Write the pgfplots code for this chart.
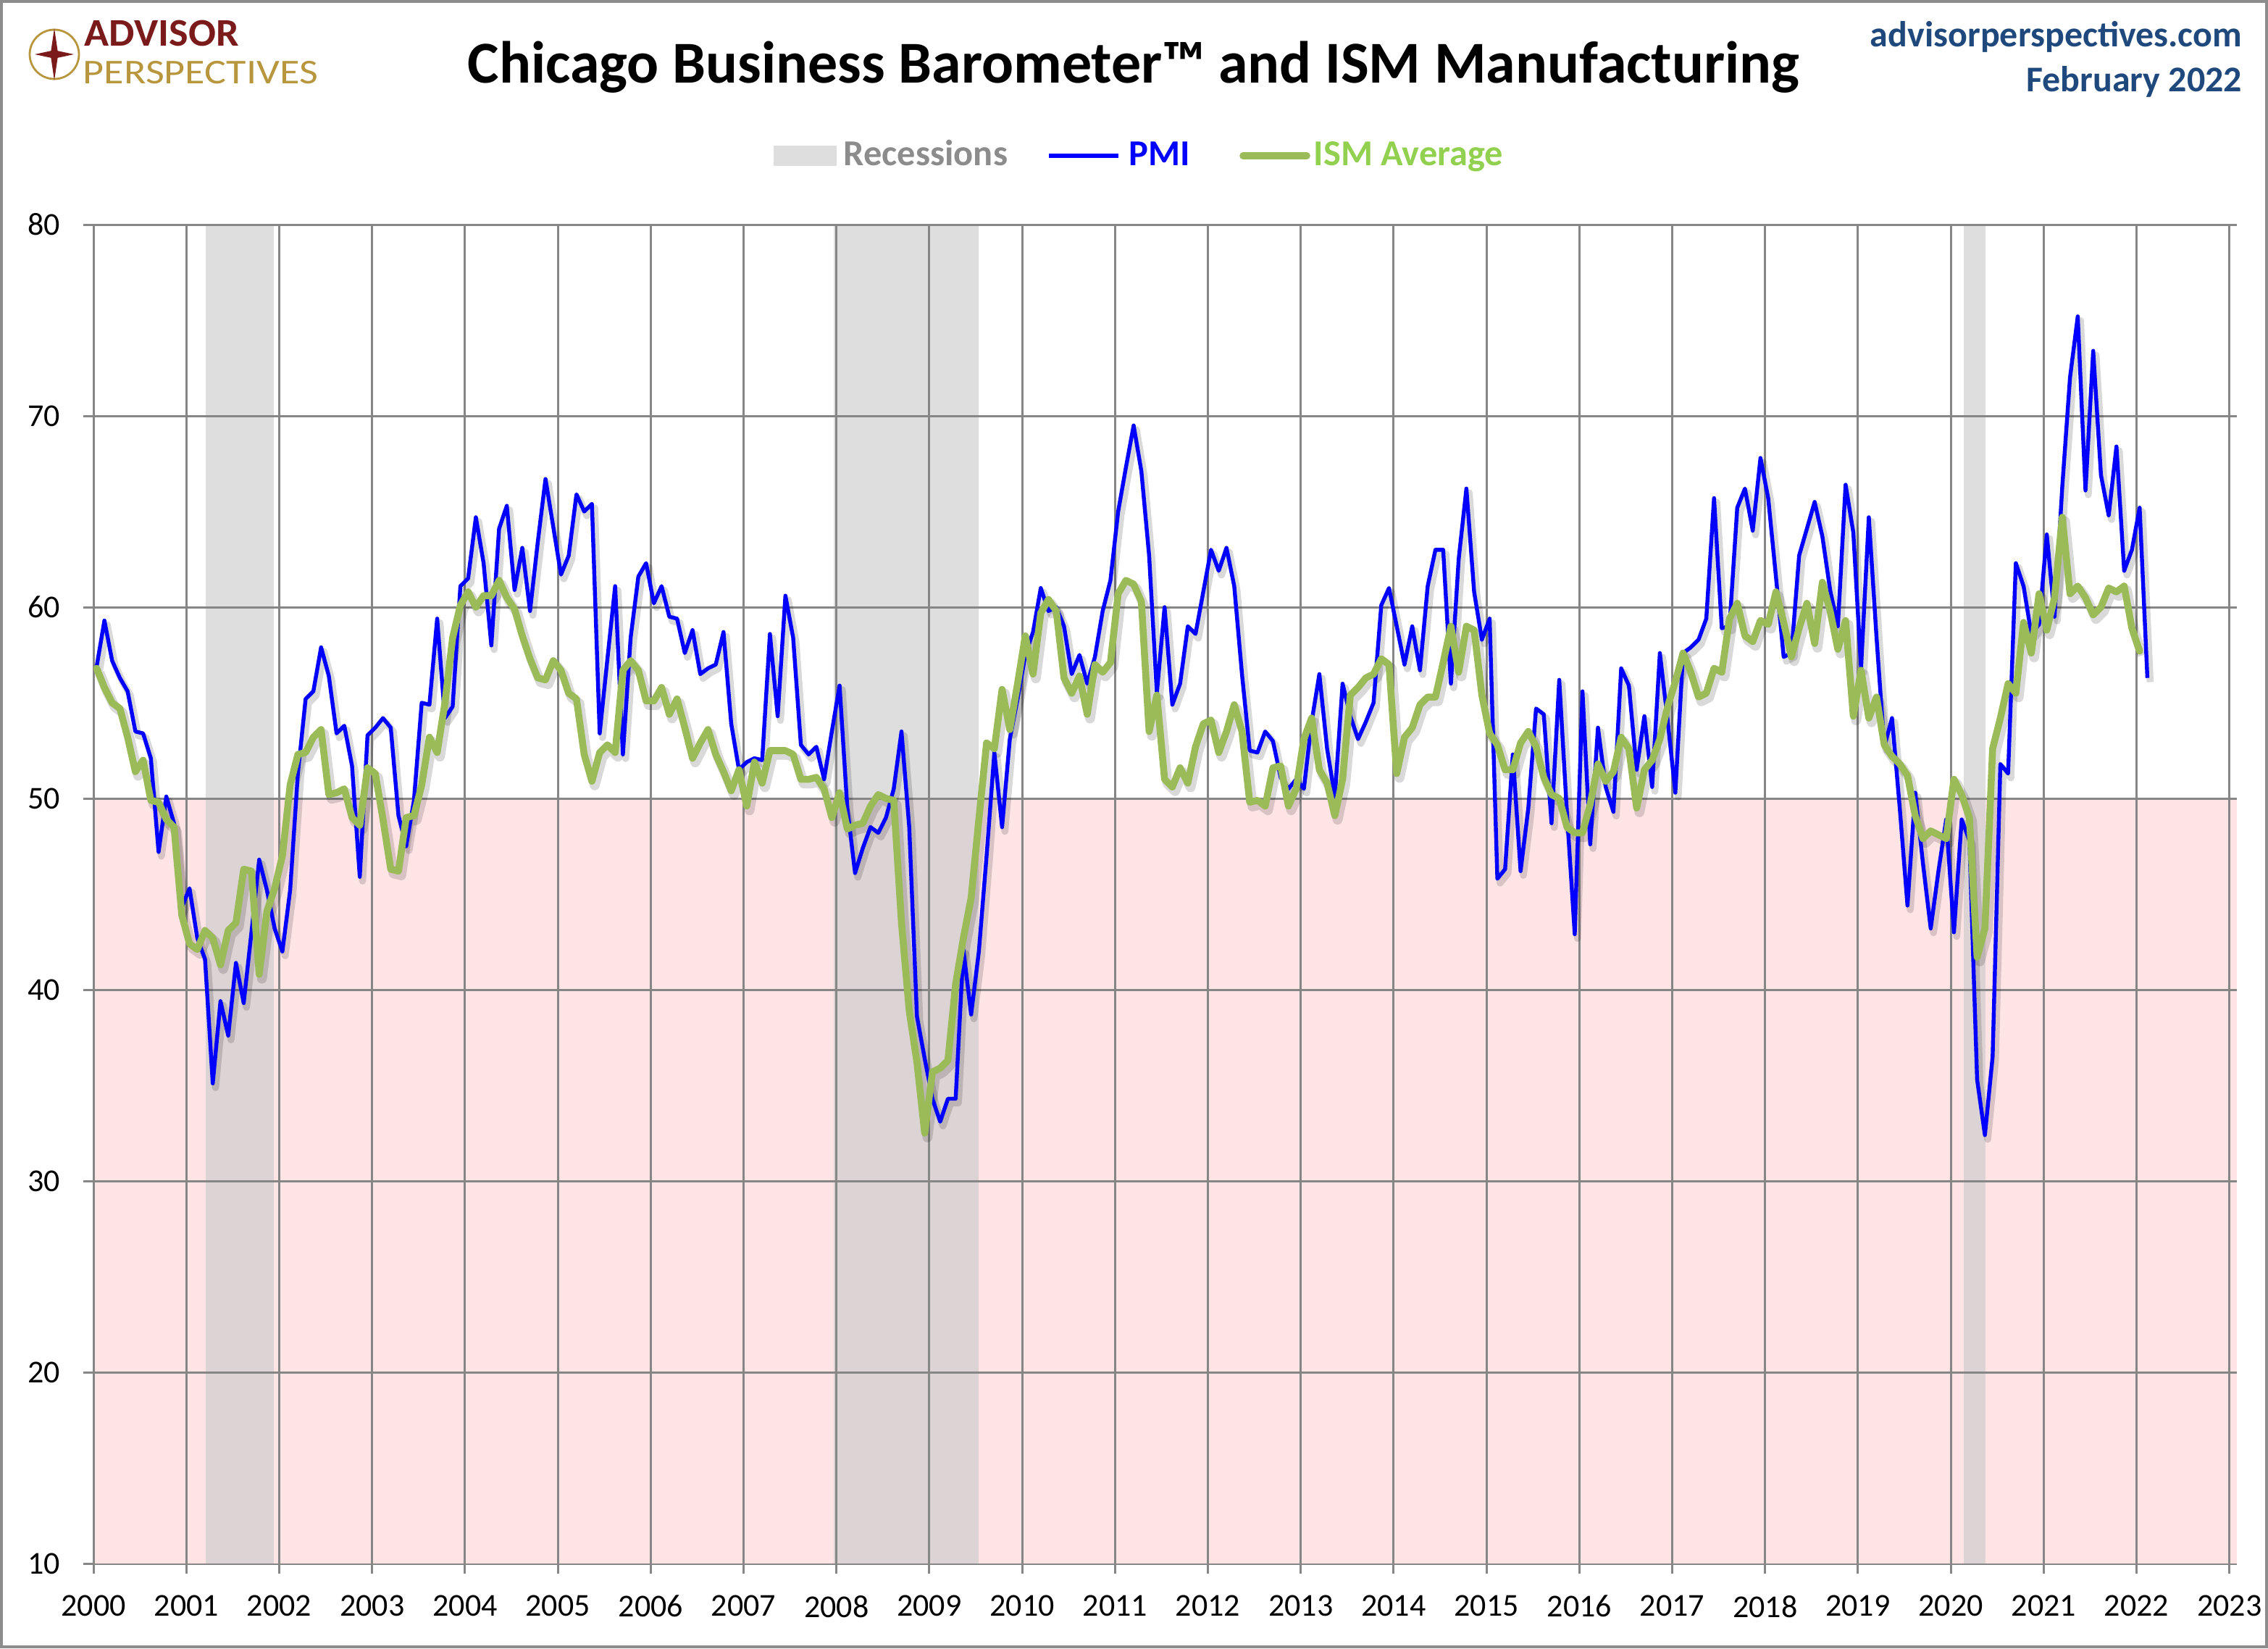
\documentclass[border=0pt]{standalone}
\usepackage{fontspec}
\setmainfont{Carlito}
\usepackage{pgfplots}
\pgfplotsset{compat=1.18}
\usepackage{pgfplotstable}
\definecolor{pmiblue}{RGB}{0,0,255}
\definecolor{ismgreen}{RGB}{155,187,89}
\definecolor{ismtext}{RGB}{146,208,80}
\definecolor{pinkzone}{RGB}{255,228,230}
\definecolor{recup}{RGB}{222,222,222}
\definecolor{reclow}{RGB}{220,211,212}
\definecolor{gridgray}{RGB}{134,134,134}
\definecolor{apred}{RGB}{122,26,26}
\definecolor{apgold}{RGB}{184,150,62}
\definecolor{apblue}{RGB}{31,73,125}
\definecolor{rectext}{RGB}{140,140,140}

\pgfplotstableread{
m pmi ism
0 56.9 56.8
1 59.3 55.8
2 57.2 55.0
3 56.3 54.7
4 55.6 53.2
5 53.5 51.4
6 53.4 52.0
7 52.1 49.9
8 47.2 49.8
9 50.1 48.9
10 48.7 48.5
11 44.3 43.9
12 45.3 42.4
13 42.7 42.1
14 41.6 43.1
15 35.1 42.7
16 39.4 41.3
17 37.6 43.1
18 41.4 43.5
19 39.3 46.3
20 43.0 46.2
21 46.8 40.8
22 45.2 44.1
23 43.2 45.3
24 42.0 47.0
25 45.2 50.7
26 51.3 52.3
27 55.2 52.4
28 55.6 53.2
29 57.9 53.6
30 56.4 50.2
31 53.4 50.3
32 53.8 50.5
33 51.7 49.0
34 45.9 48.6
35 53.3 51.6
36 53.7 51.3
37 54.2 48.9
38 53.7 46.3
39 49.1 46.2
40 47.5 49.0
41 49.9 49.1
42 55.0 50.7
43 54.9 53.2
44 59.4 52.4
45 54.2 55.0
46 54.8 58.4
47 61.1 60.1
48 61.5 60.8
49 64.7 60.0
50 62.3 60.6
51 58.0 60.6
52 64.1 61.4
53 65.3 60.5
54 60.9 59.9
55 63.1 58.5
56 59.8 57.3
57 63.4 56.3
58 66.7 56.2
59 64.2 57.2
60 61.7 56.7
61 62.7 55.5
62 65.9 55.2
63 65.0 52.3
64 65.4 50.9
65 53.4 52.4
66 57.3 52.8
67 61.1 52.4
68 52.3 56.7
69 58.4 57.2
70 61.6 56.7
71 62.3 55.1
72 60.2 55.1
73 61.1 55.8
74 59.5 54.4
75 59.4 55.2
76 57.6 53.7
77 58.8 52.1
78 56.5 52.9
79 56.8 53.6
80 57.0 52.3
81 58.7 51.4
82 53.9 50.4
83 51.5 51.5
84 51.9 49.6
85 52.1 51.9
86 52.0 50.8
87 58.6 52.5
88 54.3 52.5
89 60.6 52.5
90 58.4 52.3
91 52.8 51.0
92 52.3 51.0
93 52.7 51.1
94 51.0 50.5
95 53.5 49.0
96 55.9 50.3
97 49.5 48.4
98 46.1 48.6
99 47.4 48.7
100 48.5 49.6
101 48.2 50.2
102 49.0 50.0
103 50.5 49.9
104 53.5 43.5
105 48.5 38.9
106 38.6 36.2
107 36.4 32.5
108 34.3 35.7
109 33.1 35.9
110 34.3 36.3
111 34.3 40.3
112 42.1 42.7
113 38.7 44.8
114 42.0 48.9
115 47.0 52.9
116 52.4 52.6
117 48.5 55.7
118 53.1 53.6
119 55.2 56.0
120 57.5 58.5
121 58.7 56.5
122 61.0 59.7
123 59.8 60.4
124 60.0 59.8
125 59.0 56.3
126 56.5 55.5
127 57.5 56.4
128 56.0 54.4
129 57.4 57.0
130 59.8 56.6
131 61.4 57.1
132 65.0 60.7
133 67.3 61.4
134 69.5 61.2
135 67.1 60.3
136 62.7 53.5
137 55.5 55.4
138 60.0 51.0
139 54.9 50.6
140 56.0 51.6
141 59.0 50.8
142 58.6 52.7
143 60.8 53.9
144 63.0 54.1
145 61.9 52.4
146 63.1 53.5
147 61.1 54.9
148 56.5 53.5
149 52.5 49.8
150 52.4 49.9
151 53.5 49.6
152 53.0 51.6
153 51.1 51.7
154 50.5 49.6
155 51.0 50.5
156 50.5 53.1
157 54.0 54.2
158 56.5 51.5
159 52.6 50.8
160 50.1 49.1
161 56.0 51.0
162 54.3 55.4
163 53.1 55.8
164 54.0 56.3
165 55.0 56.5
166 60.1 57.3
167 61.0 57.0
168 59.0 51.3
169 57.0 53.2
170 59.0 53.7
171 56.7 54.9
172 61.1 55.3
173 63.0 55.3
174 63.0 57.1
175 56.0 59.0
176 62.5 56.6
177 66.2 59.0
178 60.8 58.8
179 58.3 55.4
180 59.4 53.4
181 45.8 52.8
182 46.3 51.5
183 52.3 51.5
184 46.2 52.9
185 49.5 53.5
186 54.7 52.7
187 54.4 51.1
188 48.7 50.2
189 56.2 50.0
190 49.2 48.5
191 42.9 48.2
192 55.6 48.2
193 47.6 49.7
194 53.7 51.8
195 50.6 50.9
196 49.3 51.4
197 56.8 53.2
198 55.9 52.6
199 51.5 49.5
200 54.3 51.5
201 50.6 52.0
202 57.6 53.1
203 54.1 54.8
204 50.3 56.1
205 57.6 57.6
206 57.9 56.6
207 58.3 55.3
208 59.4 55.5
209 65.7 56.8
210 58.9 56.6
211 59.0 59.4
212 65.2 60.2
213 66.2 58.5
214 64.0 58.2
215 67.8 59.3
216 65.7 59.1
217 61.6 60.8
218 57.4 59.2
219 57.6 57.4
220 62.7 58.9
221 64.1 60.2
222 65.5 58.1
223 63.7 61.3
224 60.9 59.8
225 59.0 57.8
226 66.4 59.3
227 63.9 54.3
228 56.8 56.7
229 64.7 54.2
230 58.4 55.3
231 52.7 52.8
232 54.2 52.2
233 49.5 51.8
234 44.4 51.2
235 50.3 49.1
236 46.6 47.9
237 43.2 48.3
238 46.2 48.1
239 48.9 47.9
240 43.0 51.0
241 48.9 50.2
242 47.8 49.0
243 35.3 41.7
244 32.4 43.2
245 36.5 52.6
246 51.8 54.2
247 51.3 56.0
248 62.3 55.5
249 61.1 59.2
250 58.6 57.6
251 59.1 60.7
252 63.8 58.8
253 59.5 60.5
254 66.3 64.7
255 72.0 60.7
256 75.2 61.1
257 66.1 60.5
258 73.4 59.6
259 66.9 60.0
260 64.8 61.0
261 68.4 60.8
262 61.9 61.1
263 63.0 58.9
264 65.2 57.7
265 56.3 nan
}\datatable

\begin{document}
\begin{tikzpicture}
\useasboundingbox (0,0) rectangle (782.75pt,568.75pt);
\draw[color=gray!90, line width=1pt] (0.5pt,0.5pt) rectangle (782.25pt,568.25pt);

\begin{axis}[
  at={(32.3pt,29.25pt)}, anchor=south west,
  scale only axis, width=739.7pt, height=462pt,
  xmin=2000, xmax=2023.08, ymin=10, ymax=80,
  xtick={2000,2001,...,2023}, ytick={10,20,...,80},
  xtick pos=bottom, ytick pos=left,
  grid=major,
  major grid style={draw=gridgray, line width=0.75pt},
  axis line style={draw=gridgray, line width=0.75pt},
  tick align=outside, major tick length=3.5pt,
  tick style={draw=gridgray, line width=0.75pt},
  ticklabel style={font=\fontsize{11}{13}\selectfont, text=black},
  /pgf/number format/assume math mode=true,
  xticklabel style={/pgf/number format/1000 sep={}, yshift=-4pt},
  yticklabel style={xshift=-4.5pt},
  separate axis lines,
  x axis line style={draw=gridgray, line width=1pt},
  y axis line style={draw=none},
  axis x line*=bottom, axis y line*=left,
]
% background: below-50 zone and recessions
\addplot[fill=pinkzone, draw=none] coordinates {(2000,10) (2000,50) (2023.08,50) (2023.08,10)} -- cycle;
\addplot[fill=recup, draw=none] coordinates {(2001.21,50) (2001.21,80) (2001.94,80) (2001.94,50)} -- cycle;
\addplot[fill=recup, draw=none] coordinates {(2007.97,50) (2007.97,80) (2009.53,80) (2009.53,50)} -- cycle;
\addplot[fill=recup, draw=none] coordinates {(2020.14,50) (2020.14,80) (2020.37,80) (2020.37,50)} -- cycle;
\addplot[fill=reclow, draw=none] coordinates {(2001.21,10) (2001.21,50) (2001.94,50) (2001.94,10)} -- cycle;
\addplot[fill=reclow, draw=none] coordinates {(2007.97,10) (2007.97,50) (2009.53,50) (2009.53,10)} -- cycle;
\addplot[fill=reclow, draw=none] coordinates {(2020.14,10) (2020.14,50) (2020.37,50) (2020.37,10)} -- cycle;
% grid redrawn over the shading, at the tick values
\addplot[draw=gridgray, line width=0.75pt, ycomb, mark=none] coordinates {(2000,80)(2001,80)(2002,80)(2003,80)(2004,80)(2005,80)(2006,80)(2007,80)(2008,80)(2009,80)(2010,80)(2011,80)(2012,80)(2013,80)(2014,80)(2015,80)(2016,80)(2017,80)(2018,80)(2019,80)(2020,80)(2021,80)(2022,80)(2023,80)};
\addplot[draw=gridgray, line width=0.75pt, xcomb, mark=none] coordinates {(2023.08,20)(2023.08,30)(2023.08,40)(2023.08,50)(2023.08,60)(2023.08,70)(2023.08,80)};
% shadows
\addplot[draw=black, opacity=0.15, line width=2.4pt, mark=none, line join=round]
  table[x expr=2000+(\thisrow{m}+0.4)/12+0.03, y expr=\thisrow{pmi}-0.22] {\datatable};
\addplot[draw=black, opacity=0.15, line width=3.4pt, mark=none, line join=round]
  table[x expr=2000+(\thisrow{m}+0.4)/12+0.03, y expr=\thisrow{ism}-0.22] {\datatable};
% series
\addplot[draw=pmiblue, line width=1.35pt, mark=none, line join=round]
  table[x expr=2000+(\thisrow{m}+0.4)/12, y=pmi] {\datatable};
\addplot[draw=ismgreen, line width=2.4pt, mark=none, line join=round, line cap=round]
  table[x expr=2000+(\thisrow{m}+0.4)/12, y=ism] {\datatable};
\end{axis}

% titles
\node[anchor=base, font=\bfseries\fontsize{20.5}{24}\selectfont] at (391.25pt,540pt) {Chicago Business Barometer™ and ISM Manufacturing};
\node[anchor=base east, inner sep=0pt, text=apblue, font=\bfseries\fontsize{12.5}{14}\selectfont] at (774pt,552.5pt) {advisorperspectives.com};
\node[anchor=base east, inner sep=0pt, text=apblue, font=\bfseries\fontsize{12.5}{14}\selectfont] at (774pt,537pt) {February 2022};

% logo
\node[anchor=base west, inner sep=0pt, text=apred, font=\bfseries\fontsize{13.5}{15}\selectfont] at (29pt,552.75pt) {\scalebox{1.04}[1]{ADVISOR}};
\node[anchor=base west, inner sep=0pt, text=apgold, font=\fontsize{12}{14}\selectfont] at (28.5pt,539.75pt) {\scalebox{1.17}[1]{PERSPECTIVES}};
\draw[apgold, line width=0.7pt] (18.75pt,550pt) circle (8.5pt);
\fill[apred] (18.75pt,559pt) -- (19.9pt,551.2pt) -- (25.5pt,550pt) -- (19.9pt,548.8pt) -- (18.75pt,541pt) -- (17.6pt,548.8pt) -- (12pt,550pt) -- (17.6pt,551.2pt) -- cycle;

% legend
\fill[recup] (267pt,511.5pt) rectangle (288.75pt,518.5pt);
\node[anchor=base west, inner sep=0pt, text=rectext, font=\bfseries\fontsize{12.6}{14}\selectfont] at (291pt,511.5pt) {Recessions};
\draw[pmiblue, line width=1.35pt] (362pt,515pt) -- (386pt,515pt);
\node[anchor=base west, inner sep=0pt, text=pmiblue, font=\bfseries\fontsize{12.6}{14}\selectfont] at (389.5pt,511.5pt) {PMI};
\draw[ismgreen, line width=2.4pt, line cap=round] (429pt,515pt) -- (451pt,515pt);
\node[anchor=base west, inner sep=0pt, text=ismtext, font=\bfseries\fontsize{12.6}{14}\selectfont] at (453.25pt,511.5pt) {ISM Average};
\end{tikzpicture}
\end{document}
